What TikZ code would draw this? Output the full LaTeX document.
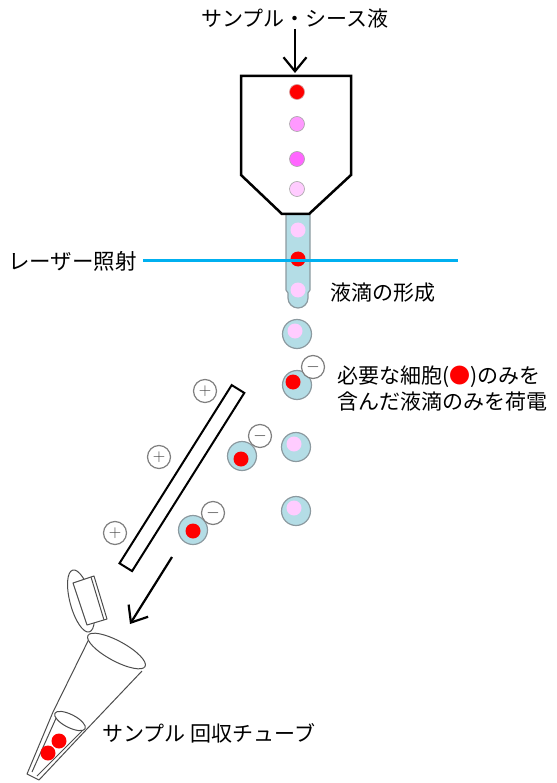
\documentclass[tikz,border=0pt]{standalone}
\usepackage{fontspec}
\newfontfamily\jpfont{Noto Sans CJK JP}
\usetikzlibrary{arrows.meta}
\definecolor{dropblue}{HTML}{B4DDE6}
\definecolor{dropedge}{HTML}{8C9AA0}
\definecolor{cellred}{HTML}{FF0000}
\definecolor{cellpink}{HTML}{FF99FF}
\definecolor{cellmag}{HTML}{FF66FF}
\definecolor{celllight}{HTML}{FFCCFF}
\definecolor{laser}{HTML}{00B0F0}
\definecolor{chgedge}{HTML}{7F7F7F}
\definecolor{tubeline}{HTML}{4D4D4D}
\begin{document}
\begin{tikzpicture}[x=1pt,y=-1pt,
  label/.style={font=\jpfont\fontsize{21pt}{25pt}\selectfont, inner sep=0pt},
  drop/.style={circle, fill=dropblue, draw=dropedge, line width=1.2pt, minimum size=29pt, inner sep=0pt},
  cell/.style={circle, inner sep=0pt, minimum size=15pt},
  charge/.style={circle, fill=white, draw=chgedge, line width=1.2pt, minimum size=23pt, inner sep=0pt, text=black!75, font=\fontsize{17pt}{17pt}\selectfont},
  flow/.style={line width=2.2pt, -{Straight Barb[length=14pt, width=23pt, line width=2.2pt]}},
  tube/.style={draw=tubeline, line width=1pt, line join=round}]
\useasboundingbox (0,0) rectangle (556,783);

% ---- inlet ----
\node[label] (src) at (295,19) {サンプル・シース液};
\coordinate (inlet) at (295,73);
\draw[flow] (src.south) -- (inlet);

% ---- jet column below the nozzle ----
\draw[fill=dropblue, draw=dropedge, line width=1.2pt]
  (286,210) -- (286,290) -- (288,293) -- (288,298)
  arc[start angle=180, end angle=360, radius=10pt]
  -- (308,293) -- (310,290) -- (310,210) -- cycle;
\node[cell, fill=celllight] (j1) at (298,230) {};
\node[cell, fill=cellred]   (j2) at (298,259) {};
\node[cell, fill=celllight] (j3) at (298,290) {};

% ---- nozzle ----
\draw[line width=2.5pt, fill=white, line join=miter]
  (241,76) -- (351,76) -- (351,175) -- (309,214) -- (282,214) -- (241,175) -- cycle;
\node[cell, fill=cellred,   draw=cellred!60!black!40, line width=0.6pt] (n1) at (297,92)  {};
\node[cell, fill=cellpink,  draw=black!35, line width=0.6pt] (n2) at (297,124) {};
\node[cell, fill=cellmag,   draw=black!35, line width=0.6pt] (n3) at (297,159) {};
\node[cell, fill=celllight, draw=black!35, line width=0.6pt] (n4) at (297,189) {};

% ---- laser ----
\node[label, anchor=east, font=\jpfont\fontsize{21.5pt}{25pt}\selectfont] (lasertext) at (137,261) {レーザー照射};
\coordinate (laserend) at (458,261);
\draw[laser, line width=3pt] ([xshift=6pt]lasertext.east) -- (laserend);

% ---- labels ----
\node[label, anchor=west] (form) at (330,293) {液滴の形成};
\node[label, anchor=west] (note1) at (337,377) {必要な細胞({\color{cellred}●})のみを};
\node[label, anchor=west] (note2) at (337,402) {含んだ液滴のみを荷電};

% ---- falling droplets ----
\node[drop] (d1) at (297,334) {};
\node[cell, fill=celllight] (c1) at (295,331) {};
\node[drop] (d2) at (297,385) {};
\node[cell, fill=cellred] (c2) at (293,382) {};
\node[charge] (m2) at (313,367) {$-$};
\node[drop] (d3) at (296,447) {};
\node[cell, fill=celllight] (c3) at (294,444) {};
\node[drop] (d4) at (296,511) {};
\node[cell, fill=celllight] (c4) at (294,508) {};

% ---- deflected droplets ----
\node[drop] (d5) at (242,456) {};
\node[cell, fill=cellred] (c5) at (241,459) {};
\node[charge] (m5) at (260,436) {$-$};
\node[drop] (d6) at (193,530) {};
\node[cell, fill=cellred] (c6) at (193,531) {};
\node[charge] (m6) at (213,513) {$-$};

% ---- deflection plate ----
\draw[line width=2pt, fill=white] (231.7,385.1) -- (244.3,392.9) -- (132.1,571.1) -- (119.5,563.3) -- cycle;
\node[charge] (p1) at (205,391) {$+$};
\node[charge] (p2) at (159,457) {$+$};
\node[charge] (p3) at (115,533) {$+$};

% ---- arrow to the tube ----
\coordinate (a2s) at (172,557);
\coordinate (a2e) at (130,624);
\draw[flow] (a2s) -- (a2e);

% ---- collection tube ----
\draw[tube] (89,639) -- (53,712) -- (27,774) -- (39,780) -- (86,730) -- (142,671);
\draw[tube] (57,716) -- (32,772);
\draw[tube] (82,731) -- (37,776);
\draw[tube, fill=white, rotate around={-27:(70,721)}] (70,721) ellipse[x radius=17pt, y radius=6.5pt];
\draw[tube, fill=white, rotate around={-28.5:(116.5,651)}] (116.5,651) ellipse[x radius=32.5pt, y radius=10pt];
\node[cell, fill=cellred] (t1) at (59,741) {};
\node[cell, fill=cellred] (t2) at (48,753) {};
% lid
\draw[tube, fill=white, rotate around={15:(81,601)}] (81,601) ellipse[x radius=11pt, y radius=32pt];
\draw[tube, fill=white] (73,583) -- (94,576) -- (107,619) -- (87,625) -- cycle;
\draw[tube] (91,577) -- (104,620);

\node[label, anchor=west] (tubelabel) at (102,733) {サンプル 回収チューブ};
\end{tikzpicture}
\end{document}
